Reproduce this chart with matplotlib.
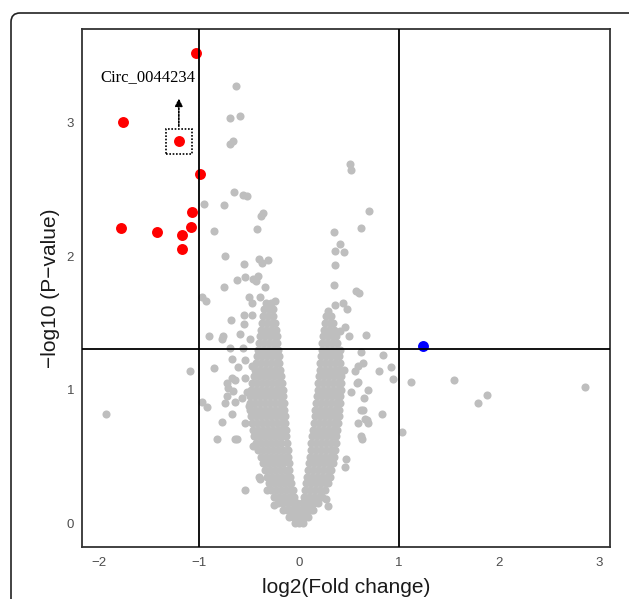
import matplotlib
matplotlib.use("Agg")
import matplotlib.pyplot as plt
from matplotlib.patches import FancyBboxPatch, Rectangle

# significant down-regulated circRNAs (red)
down_x = [-1.03, -1.76, -1.20, -0.99, -1.07, -1.08, -1.78, -1.42, -1.17, -1.17]
down_y = [3.52, 3.00, 2.86, 2.61, 2.33, 2.22, 2.21, 2.18, 2.16, 2.05]

# significant up-regulated (blue)
up_x = [1.24]
up_y = [1.33]

# dense V-shaped core of non-significant points: (y, left arm xs, right arm xs)
core_rows = [
    (0.00, [-0.04, 0.00], [0.04]),
    (0.05, [-0.10, -0.06, -0.02], [0.02, 0.06, 0.09]),
    (0.10, [-0.16, -0.12, -0.08, -0.04], [0.00, 0.04, 0.08, 0.12, 0.14]),
    (0.15, [-0.21, -0.16, -0.11, -0.06, -0.02], [0.03, 0.07, 0.11, 0.15, 0.19]),
    (0.20, [-0.25, -0.20, -0.15, -0.10, -0.045], [0.05, 0.10, 0.15, 0.20, 0.23]),
    (0.25, [-0.28, -0.23, -0.18, -0.13, -0.08, -0.06], [0.06, 0.11, 0.16, 0.21, 0.26]),
    (0.30, [-0.30, -0.25, -0.20, -0.15, -0.10, -0.075], [0.075, 0.12, 0.17, 0.22, 0.27, 0.29]),
    (0.35, [-0.32, -0.27, -0.22, -0.17, -0.12, -0.085], [0.085, 0.13, 0.18, 0.23, 0.28, 0.31]),
    (0.40, [-0.34, -0.29, -0.24, -0.19, -0.14, -0.095], [0.095, 0.14, 0.19, 0.24, 0.29, 0.32]),
    (0.45, [-0.36, -0.31, -0.26, -0.21, -0.16, -0.10], [0.105, 0.15, 0.20, 0.25, 0.30, 0.34]),
    (0.50, [-0.38, -0.33, -0.28, -0.23, -0.18, -0.13, -0.105], [0.115, 0.16, 0.21, 0.26, 0.31, 0.35]),
    (0.55, [-0.41, -0.36, -0.31, -0.26, -0.21, -0.16, -0.11], [0.12, 0.17, 0.22, 0.27, 0.32, 0.36]),
    (0.60, [-0.43, -0.38, -0.33, -0.28, -0.23, -0.18, -0.12], [0.125, 0.17, 0.22, 0.27, 0.32, 0.37]),
    (0.65, [-0.45, -0.40, -0.35, -0.30, -0.25, -0.20, -0.16, -0.125], [0.135, 0.18, 0.23, 0.28, 0.33, 0.37]),
    (0.70, [-0.46, -0.41, -0.36, -0.31, -0.26, -0.21, -0.17, -0.13], [0.14, 0.19, 0.24, 0.29, 0.34, 0.38]),
    (0.75, [-0.47, -0.42, -0.37, -0.32, -0.27, -0.22, -0.17, -0.135], [0.15, 0.20, 0.25, 0.30, 0.35, 0.39]),
    (0.80, [-0.48, -0.43, -0.38, -0.33, -0.28, -0.23, -0.18, -0.14], [0.16, 0.21, 0.26, 0.31, 0.36, 0.40]),
    (0.85, [-0.49, -0.44, -0.39, -0.34, -0.29, -0.24, -0.19, -0.145], [0.165, 0.21, 0.26, 0.31, 0.36, 0.40]),
    (0.90, [-0.49, -0.44, -0.39, -0.34, -0.29, -0.24, -0.19, -0.15], [0.17, 0.22, 0.27, 0.32, 0.37, 0.41]),
    (0.95, [-0.49, -0.44, -0.39, -0.34, -0.29, -0.24, -0.19, -0.155], [0.18, 0.23, 0.28, 0.33, 0.38, 0.41]),
    (1.00, [-0.48, -0.43, -0.38, -0.33, -0.28, -0.23, -0.19, -0.16], [0.19, 0.24, 0.29, 0.34, 0.39, 0.42]),
    (1.05, [-0.47, -0.42, -0.37, -0.32, -0.27, -0.22, -0.17], [0.195, 0.24, 0.29, 0.34, 0.39, 0.42]),
    (1.10, [-0.45, -0.40, -0.35, -0.30, -0.25, -0.20, -0.18], [0.20, 0.25, 0.30, 0.35, 0.40, 0.42]),
    (1.15, [-0.44, -0.39, -0.34, -0.29, -0.24, -0.19], [0.21, 0.26, 0.31, 0.36, 0.40]),
    (1.20, [-0.43, -0.38, -0.33, -0.28, -0.23, -0.195], [0.215, 0.26, 0.31, 0.36, 0.41]),
    (1.25, [-0.42, -0.37, -0.32, -0.27, -0.22, -0.20], [0.22, 0.27, 0.32, 0.37, 0.40]),
    (1.30, [-0.41, -0.36, -0.31, -0.26, -0.21], [0.23, 0.28, 0.33, 0.38, 0.41]),
    (1.35, [-0.40, -0.35, -0.30, -0.25, -0.215], [0.235, 0.28, 0.33, 0.38]),
    (1.40, [-0.39, -0.34, -0.29, -0.24, -0.22], [0.24, 0.29, 0.34, 0.37]),
    (1.45, [-0.38, -0.33, -0.28, -0.23], [0.25, 0.30, 0.35]),
    (1.50, [-0.37, -0.32, -0.27, -0.24], [0.26, 0.31, 0.34]),
    (1.55, [-0.36, -0.31, -0.26], [0.27, 0.32]),
    (1.60, [-0.35, -0.30, -0.26], []),
    (1.65, [-0.33, -0.28], []),
]

# scattered non-significant points outside the core
gray_x = [-0.63, -0.69, -0.59, -0.69, -0.66, 0.51, 0.52, -0.65, -0.56, -0.52,
          -0.95, -0.75, 0.70, -0.36, -0.38, -0.85, -0.42, 0.62, 0.35, 0.41,
          0.36, 0.45, -0.74, -0.40, -0.31, -0.37, -0.55, 0.36, -0.62, -0.54,
          -0.46, -0.41, -0.43, -0.75, -0.34, 0.35, -0.97, -0.93, -0.39, 0.57,
          0.60, -0.50, -0.47, -0.24, 0.36, 0.44, 0.48, 0.29, -0.68, -0.55,
          -0.55, -0.47, -0.90, -0.76, -0.77, -0.59, -0.49, 0.67, 0.50, 0.41,
          0.46, -0.69, -0.56, 0.84, 0.62, -1.09, -0.85, -0.67, 0.92, 0.80,
          0.94, 0.64, 1.12, 1.55, 1.88, 1.79, 2.86, 0.83, 1.03, -1.93,
          -0.97, -0.92, -0.82, -0.64, -0.62, -0.77, -0.54, -0.32, -0.25, 0.29,
          -0.72, -0.71, -0.64, -0.66, -0.72, -0.67, -0.74, -0.64, -0.54, -0.46,
          -0.39, -0.40, 0.56, 0.69, 0.58, 0.62, 0.66, 0.68, 0.62, 0.59,
          0.47, 0.46, 0.27, 0.65, 0.64, 0.69, 0.63, 0.59, 0.52, 0.59,
          -0.61, -0.54, -0.47, -0.67, -0.54, -0.57, -0.44, -0.52, -0.50, 0.45]
gray_y = [3.27, 3.03, 3.05, 2.84, 2.86, 2.69, 2.64, 2.48, 2.46, 2.45,
          2.39, 2.38, 2.34, 2.32, 2.30, 2.19, 2.20, 2.21, 2.18, 2.09,
          2.04, 2.03, 2.00, 1.98, 1.97, 1.95, 1.94, 1.93, 1.82, 1.84,
          1.83, 1.85, 1.81, 1.77, 1.77, 1.78, 1.69, 1.66, 1.69, 1.74,
          1.72, 1.69, 1.65, 1.66, 1.63, 1.65, 1.60, 1.59, 1.52, 1.56,
          1.49, 1.56, 1.40, 1.40, 1.38, 1.42, 1.38, 1.41, 1.40, 1.44,
          1.47, 1.31, 1.31, 1.26, 1.28, 1.14, 1.16, 1.23, 1.17, 1.14,
          1.08, 1.20, 1.06, 1.07, 0.96, 0.90, 1.02, 0.82, 0.68, 0.82,
          0.91, 0.87, 0.63, 0.63, 0.63, 0.76, 0.25, 0.25, 0.14, 0.13,
          1.05, 1.01, 1.07, 0.99, 0.95, 0.82, 0.90, 0.91, 0.75, 0.58,
          0.33, 0.35, 1.14, 1.00, 1.05, 0.85, 0.78, 0.77, 0.65, 0.75,
          0.48, 0.42, 0.18, 0.94, 0.85, 0.75, 0.63, 1.18, 0.98, 1.06,
          1.17, 1.22, 1.18, 1.09, 1.09, 0.94, 0.97, 0.98, 0.88, 1.15]

fc_cut = 1
p_cut = 1.301

xticks = [-2, -1, 0, 1, 2, 3]
yticks = [0, 1, 2, 3]

plt.rcParams['font.family'] = ['Liberation Sans', 'DejaVu Sans']

fig = plt.figure(figsize=(6.29, 5.99), dpi=100)
ax = fig.add_axes([0.130, 0.087, 0.840, 0.865])

core_x, core_y = [], []
for y, left, right in core_rows:
    for x in left + right:
        core_x.append(x)
        core_y.append(y)

ax.scatter(core_x, core_y, s=34, c='#BEBEBE', linewidths=0, zorder=2)
ax.scatter(gray_x, gray_y, s=34, c='#BEBEBE', linewidths=0, zorder=2)
ax.scatter(down_x, down_y, s=62, c='#FF0000', linewidths=0, zorder=3)
ax.scatter(up_x, up_y, s=62, c='#0000FF', linewidths=0, zorder=3)

ax.axvline(-fc_cut, color='black', lw=1.3, zorder=4)
ax.axvline(fc_cut, color='black', lw=1.3, zorder=4)
ax.axhline(p_cut, color='black', lw=1.3, zorder=4)

# highlighted circRNA
ax.add_patch(Rectangle((-1.324, 2.76), 0.255, 0.19, fill=False, ls=(0, (1, 1)),
                       lw=1.2, ec='black', zorder=5))
ax.annotate('', xy=(-1.20, 3.20), xytext=(-1.20, 2.95),
            arrowprops=dict(arrowstyle='-|>', ls=(0, (1, 1)), lw=1.2,
                            color='black', mutation_scale=11), zorder=5)
ax.text(-1.51, 3.34, 'Circ_0044234', family='Liberation Serif', fontsize=12,
        ha='center', va='center', color='black', zorder=5)

ax.set_xlim(-2.17, 3.11)
ax.set_ylim(-0.176, 3.70)
ax.set_xticks(xticks)
ax.set_xticklabels([str(t).replace('-', '\u2212') for t in xticks])
ax.set_yticks(yticks)
ax.tick_params(length=0, labelsize=9.5, labelcolor='#4D4D4D')
ax.tick_params(axis='x', pad=7)
ax.tick_params(axis='y', pad=5.5)
for sp in ax.spines.values():
    sp.set_color('#333333')
    sp.set_linewidth(1.3)

ax.set_xlabel('log2(Fold change)', fontsize=15, color='#1A1A1A', labelpad=7)
ax.set_ylabel('\u2212log10 (P\u2212value)', fontsize=15, color='#1A1A1A', labelpad=5)

# rounded outer border of the figure panel
fig.patches.append(FancyBboxPatch((11, -20), 640, 606, boxstyle='round,pad=0,rounding_size=9',
                                  transform=None, fill=False, ec='#222222', lw=1.2,
                                  figure=fig))

fig.savefig('out.png', dpi=100)
